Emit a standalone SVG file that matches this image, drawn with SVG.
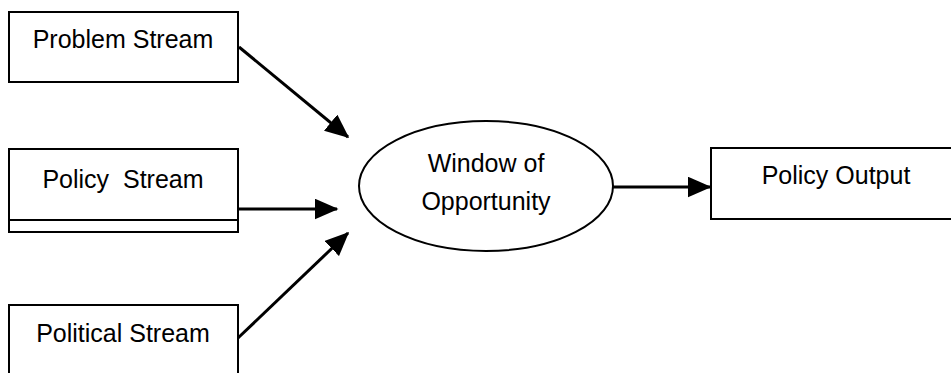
<svg xmlns="http://www.w3.org/2000/svg" width="951" height="373" viewBox="0 0 951 373">
<style>
.box{fill:#fff;stroke:#000;stroke-width:2}
.lbl{font-family:"Liberation Sans",Arial,sans-serif;font-size:25px;fill:#000;text-anchor:middle}
.conn{stroke:#000;stroke-width:3;fill:none;marker-end:url(#ah)}
</style>
<defs>
<marker id="ah" markerWidth="8" markerHeight="7" refX="7.5" refY="3.5" orient="auto" markerUnits="strokeWidth">
<path d="M0,0 L8,3.5 L0,7 Z" fill="#000"/>
</marker>
</defs>
<rect width="951" height="373" fill="#fff"/>
<g id="problem">
<rect class="box" x="9" y="12" width="229" height="70"/>
<text class="lbl" x="123" y="48">Problem Stream</text>
</g>
<g id="policy">
<rect class="box" x="9" y="149" width="229" height="83"/>
<line x1="9" y1="220" x2="238" y2="220" stroke="#000" stroke-width="2"/>
<text class="lbl" x="123" y="188">Policy&#160; Stream</text>
</g>
<g id="political">
<rect class="box" x="9" y="305" width="229" height="80"/>
<text class="lbl" x="123" y="342">Political Stream</text>
</g>
<g id="window">
<ellipse cx="486" cy="186" rx="127" ry="65" fill="#fff" stroke="#000" stroke-width="2"/>
<text class="lbl" x="486" y="172">Window of</text>
<text class="lbl" x="486" y="210">Opportunity</text>
</g>
<g id="output">
<rect class="box" x="711" y="148" width="250" height="71"/>
<text class="lbl" x="836" y="184">Policy Output</text>
</g>
<g id="connectors">
<line class="conn" x1="239" y1="47" x2="348" y2="137"/>
<line class="conn" x1="238" y1="209" x2="337" y2="209"/>
<line class="conn" x1="238" y1="338" x2="348" y2="233"/>
<line class="conn" x1="612" y1="187" x2="710" y2="187"/>
</g>
</svg>
